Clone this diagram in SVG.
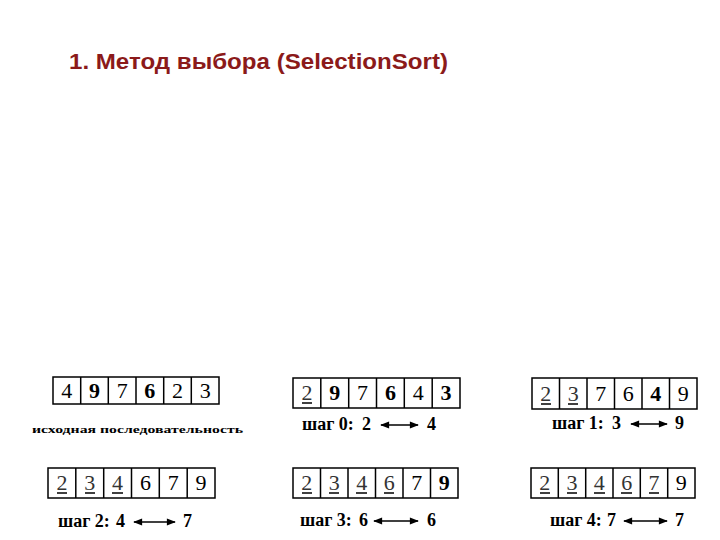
<svg xmlns="http://www.w3.org/2000/svg" width="720" height="540" viewBox="0 0 720 540">
<defs>
<style>
.title{font-family:"Liberation Sans",Arial,sans-serif;font-weight:bold;font-size:22px;fill:#8B1A1A}
.cell{fill:#fff;stroke:#000;stroke-width:1.5}
.d{font-family:"Liberation Serif","Times New Roman",serif;font-size:22px;fill:#000;text-anchor:middle}
.b{font-weight:bold}
.u{fill:#333}
.ul{stroke:#000;stroke-width:1.5}
.lbl{font-family:"Liberation Serif","Times New Roman",serif;font-weight:bold;font-size:18px;fill:#000}
.cap{font-family:"Liberation Serif","Times New Roman",serif;font-weight:bold;font-size:11px;fill:#000}
.arr{stroke:#000;stroke-width:1.5;fill:none;marker-start:url(#ah);marker-end:url(#ah)}
</style>
<marker id="ah" viewBox="0 0 10 10" refX="9" refY="5" markerWidth="7" markerHeight="6" orient="auto-start-reverse" markerUnits="strokeWidth">
<path d="M0,1 L10,5 L0,9 Z" fill="#000"/>
</marker>
</defs>
<rect width="720" height="540" fill="#fff"/>
<text class="title" x="69" y="69" textLength="379" lengthAdjust="spacingAndGlyphs">1. Метод выбора (SelectionSort)</text>

<g id="arr-initial">
<rect class="cell" x="53" y="377" width="166" height="27"/>
<path class="cell" d="M80.7,377V404M108.3,377V404M136,377V404M163.7,377V404M191.3,377V404"/>
<text class="d" x="66.8" y="398">4</text>
<text class="d b" x="94.5" y="398">9</text>
<text class="d" x="122.2" y="398">7</text>
<text class="d b" x="149.8" y="398">6</text>
<text class="d" x="177.5" y="398">2</text>
<text class="d" x="205.2" y="398">3</text>
<text class="cap" x="32" y="433" textLength="211" lengthAdjust="spacingAndGlyphs">исходная последовательность</text>
</g>

<g id="step0">
<rect class="cell" x="293" y="378" width="167" height="30"/>
<path class="cell" d="M320.8,378V408M348.7,378V408M376.5,378V408M404.3,378V408M432.2,378V408"/>
<text class="d u" x="306.9" y="400">2</text>
<line class="ul" x1="302" y1="403" x2="312" y2="403"/>
<text class="d b" x="334.8" y="400">9</text>
<text class="d" x="362.6" y="400">7</text>
<text class="d b" x="390.4" y="400">6</text>
<text class="d" x="418.3" y="400">4</text>
<text class="d b" x="446.1" y="400">3</text>
<text class="lbl" x="302" y="430">шаг 0:</text>
<text class="lbl" x="362" y="430">2</text>
<line class="arr" x1="381" y1="425" x2="418" y2="425"/>
<text class="lbl" x="427" y="430">4</text>
</g>

<g id="step1">
<rect class="cell" x="532" y="378" width="165" height="31"/>
<path class="cell" d="M559.5,378V409M587,378V409M614.5,378V409M642,378V409M669.5,378V409"/>
<text class="d u" x="545.8" y="401">2</text>
<line class="ul" x1="541" y1="404" x2="551" y2="404"/>
<text class="d u" x="573.3" y="401">3</text>
<line class="ul" x1="568" y1="404" x2="578" y2="404"/>
<text class="d" x="600.8" y="401">7</text>
<text class="d" x="628.3" y="401">6</text>
<text class="d b" x="655.8" y="401">4</text>
<text class="d" x="683.3" y="401">9</text>
<text class="lbl" x="552" y="429">шаг 1:</text>
<text class="lbl" x="612" y="429">3</text>
<line class="arr" x1="631" y1="424" x2="667" y2="424"/>
<text class="lbl" x="675" y="429">9</text>
</g>

<g id="step2">
<rect class="cell" x="48" y="468" width="167" height="30"/>
<path class="cell" d="M75.8,468V498M103.7,468V498M131.5,468V498M159.3,468V498M187.2,468V498"/>
<text class="d u" x="61.9" y="490">2</text>
<line class="ul" x1="57" y1="493" x2="67" y2="493"/>
<text class="d u" x="89.8" y="490">3</text>
<line class="ul" x1="85" y1="493" x2="95" y2="493"/>
<text class="d u" x="117.6" y="490">4</text>
<line class="ul" x1="112" y1="493" x2="123" y2="493"/>
<text class="d" x="145.4" y="490">6</text>
<text class="d" x="173.3" y="490">7</text>
<text class="d" x="201.1" y="490">9</text>
<text class="lbl" x="58" y="527">шаг 2:</text>
<text class="lbl" x="116" y="527">4</text>
<line class="arr" x1="134" y1="522" x2="175" y2="522"/>
<text class="lbl" x="183" y="527">7</text>
</g>

<g id="step3">
<rect class="cell" x="293" y="468" width="165" height="30"/>
<path class="cell" d="M320.5,468V498M348,468V498M375.5,468V498M403,468V498M430.5,468V498"/>
<text class="d u" x="306.8" y="490">2</text>
<line class="ul" x1="302" y1="493" x2="312" y2="493"/>
<text class="d u" x="334.3" y="490">3</text>
<line class="ul" x1="329" y1="493" x2="339" y2="493"/>
<text class="d u" x="361.8" y="490">4</text>
<line class="ul" x1="356" y1="493" x2="367" y2="493"/>
<text class="d u" x="389.3" y="490">6</text>
<line class="ul" x1="384" y1="493" x2="394" y2="493"/>
<text class="d" x="416.8" y="490">7</text>
<text class="d b" x="444.3" y="490">9</text>
<text class="lbl" x="300" y="526">шаг 3:</text>
<text class="lbl" x="359" y="526">6</text>
<line class="arr" x1="374" y1="521" x2="418" y2="521"/>
<text class="lbl" x="427" y="526">6</text>
</g>

<g id="step4">
<rect class="cell" x="531" y="468" width="164" height="30"/>
<path class="cell" d="M558.3,468V498M585.7,468V498M613,468V498M640.3,468V498M667.7,468V498"/>
<text class="d u" x="544.7" y="490">2</text>
<line class="ul" x1="540" y1="493" x2="550" y2="493"/>
<text class="d u" x="572" y="490">3</text>
<line class="ul" x1="567" y1="493" x2="577" y2="493"/>
<text class="d u" x="599.3" y="490">4</text>
<line class="ul" x1="594" y1="493" x2="605" y2="493"/>
<text class="d u" x="626.7" y="490">6</text>
<line class="ul" x1="621" y1="493" x2="632" y2="493"/>
<text class="d u" x="654" y="490">7</text>
<line class="ul" x1="649" y1="493" x2="659" y2="493"/>
<text class="d" x="681.3" y="490">9</text>
<text class="lbl" x="550" y="526">шаг 4:</text>
<text class="lbl" x="607" y="526">7</text>
<line class="arr" x1="624" y1="521" x2="667" y2="521"/>
<text class="lbl" x="675" y="526">7</text>
</g>
</svg>
